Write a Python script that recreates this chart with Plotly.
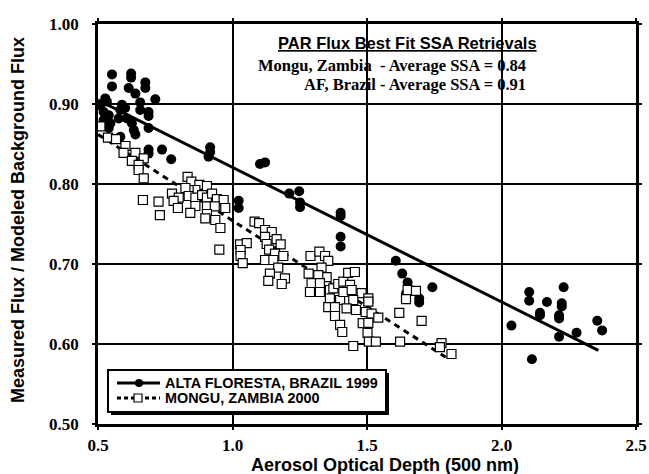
import plotly.graph_objects as go

# Alta Floresta, Brazil 1999 (filled circles)
af_x = [0.502, 0.509, 0.527, 0.533, 0.521, 0.540, 0.521, 0.546, 0.540, 0.552, 0.552, 0.623, 0.623, 0.614,
        0.676, 0.676, 0.639, 0.713, 0.657, 0.657, 0.688, 0.688, 0.589, 0.583, 0.601, 0.577, 0.608, 0.626,
        0.633, 0.639, 0.688, 0.583, 0.688, 0.688, 0.738, 0.772, 0.917, 0.917, 0.911, 1.023, 1.023, 1.102,
        1.121, 1.211, 1.248, 1.251, 1.251, 1.402, 1.402, 1.402, 1.402, 1.607, 1.631, 1.651, 1.645, 1.743,
        1.694, 1.694, 2.037, 2.103, 2.103, 2.113, 2.143, 2.143, 2.169, 2.214, 2.214, 2.214, 2.224, 2.224,
        2.231, 2.279, 2.356, 2.374]
af_y = [0.899, 0.899, 0.907, 0.903, 0.890, 0.886, 0.880, 0.876, 0.870, 0.937, 0.922, 0.938, 0.933, 0.920,
        0.927, 0.920, 0.913, 0.906, 0.902, 0.8925, 0.890, 0.885, 0.899, 0.8925, 0.895, 0.882, 0.882, 0.876,
        0.8675, 0.862, 0.870, 0.859, 0.843, 0.838, 0.843, 0.831, 0.846, 0.840, 0.834, 0.779, 0.770, 0.825,
        0.827, 0.788, 0.791, 0.777, 0.771, 0.764, 0.760, 0.734, 0.722, 0.704, 0.688, 0.677, 0.663, 0.671,
        0.657, 0.652, 0.623, 0.665, 0.654, 0.581, 0.639, 0.636, 0.6525, 0.636, 0.632, 0.609, 0.651, 0.647,
        0.671, 0.614, 0.629, 0.617]

# Mongu, Zambia 2000 (open squares)
mz_x = [0.509, 0.537, 0.567, 0.602, 0.595, 0.639, 0.670, 0.626, 0.651, 0.651, 0.670,
        0.833, 0.847, 0.877, 0.905, 0.862, 0.837, 0.825, 0.775, 0.800, 0.781, 0.837, 0.862, 0.887, 0.905,
        0.924, 0.942, 0.967, 0.905, 0.934, 0.862, 0.973, 0.797, 0.843, 0.905, 0.936, 0.899, 0.955, 0.725,
        0.667, 0.730, 0.951,
        1.028, 1.053, 1.030, 1.030, 1.038, 1.082, 1.099, 1.121, 1.146, 1.121, 1.164, 1.179, 1.127, 1.136,
        1.158, 1.189, 1.121, 1.152, 1.170, 1.139, 1.133, 1.195, 1.183,
        1.290, 1.323, 1.344, 1.356, 1.331, 1.283, 1.350, 1.319, 1.294, 1.325, 1.288, 1.325, 1.362, 1.375,
        1.362, 1.400, 1.393, 1.412, 1.430, 1.455, 1.437, 1.412, 1.443, 1.480, 1.449, 1.505, 1.505, 1.356,
        1.381, 1.424, 1.459, 1.495, 1.517, 1.542, 1.381, 1.400, 1.408, 1.484, 1.505, 1.502, 1.507, 1.533,
        1.449,
        1.620, 1.623, 1.651, 1.682, 1.645, 1.703, 1.777, 1.771, 1.814]
mz_y = [0.872, 0.858, 0.856, 0.8475, 0.839, 0.839, 0.832, 0.829, 0.824, 0.8175, 0.807,
        0.809, 0.803, 0.799, 0.7975, 0.7925, 0.7925, 0.795, 0.788, 0.783, 0.779, 0.785, 0.783, 0.786, 0.783,
        0.788, 0.781, 0.780, 0.772, 0.772, 0.7725, 0.770, 0.770, 0.764, 0.7625, 0.755, 0.757, 0.745, 0.778,
        0.780, 0.761, 0.718,
        0.7245, 0.726, 0.7175, 0.710, 0.701, 0.753, 0.751, 0.7425, 0.740, 0.734, 0.731, 0.7245, 0.725, 0.718,
        0.713, 0.710, 0.705, 0.705, 0.6955, 0.688, 0.679, 0.682, 0.675,
        0.710, 0.7155, 0.710, 0.704, 0.6955, 0.688, 0.6835, 0.686, 0.676, 0.676, 0.665, 0.665, 0.6675, 0.6695,
        0.657, 0.655, 0.675, 0.678, 0.689, 0.690, 0.674, 0.665, 0.6675, 0.6635, 0.655, 0.657, 0.653, 0.646,
        0.646, 0.6445, 0.6425, 0.640, 0.638, 0.633, 0.635, 0.624, 0.615, 0.626, 0.6265, 0.614, 0.603, 0.603,
        0.5975,
        0.639, 0.603, 0.6675, 0.6665, 0.656, 0.629, 0.601, 0.596, 0.5875]

# Best-fit lines
af_fit_x = [0.5, 2.36]
af_fit_y = [0.905, 0.592]
mz_fit_x = [0.5, 1.80]
mz_fit_y = [0.862, 0.582]

x_ticks = [0.5, 1.0, 1.5, 2.0, 2.5]
y_ticks = [0.50, 0.60, 0.70, 0.80, 0.90, 1.00]

legend_names = ["ALTA FLORESTA, BRAZIL 1999", "MONGU, ZAMBIA 2000"]

SERIF = "Liberation Serif"
SANS = "Liberation Sans"

# figure geometry (pixels)
W, H = 649, 474
ML, MR, MT, MB = 98, 13, 24, 50
PW, PH = W - ML - MR, H - MT - MB


def px(xp):
    return (xp - ML) / PW


def py(yp):
    return (H - MB - yp) / PH


fig = go.Figure()

fig.add_trace(go.Scatter(x=af_fit_x, y=af_fit_y, mode="lines", showlegend=False,
                         line=dict(color="black", width=3)))
fig.add_trace(go.Scatter(x=mz_fit_x, y=mz_fit_y, mode="lines", showlegend=False,
                         line=dict(color="black", width=3, dash="6px,5px")))
fig.add_trace(go.Scatter(x=af_x, y=af_y, mode="markers", showlegend=False,
                         marker=dict(symbol="circle", size=10, color="black",
                                     line=dict(width=0))))
fig.add_trace(go.Scatter(x=mz_x, y=mz_y, mode="markers", showlegend=False,
                         marker=dict(symbol="square", size=9, color="white",
                                     line=dict(width=1.2, color="black"))))

fig.update_layout(
    width=W, height=H,
    margin=dict(l=ML, r=MR, t=MT, b=MB, autoexpand=False),
    paper_bgcolor="white", plot_bgcolor="white",
    showlegend=False,
    xaxis=dict(range=[0.5, 2.5], tickvals=x_ticks, ticktext=[f"{v:.1f}" for v in x_ticks],
               showgrid=True, gridcolor="black", gridwidth=2, zeroline=False,
               showline=True, linecolor="black", linewidth=2.5, mirror="ticks",
               ticks="outside", ticklen=3, tickcolor="black", tickwidth=2,
               ticklabelstandoff=1,
               tickfont=dict(family=SERIF, size=17, color="black", weight="bold")),
    yaxis=dict(range=[0.5, 1.0], tickvals=y_ticks, ticktext=[f"{v:.2f}" for v in y_ticks],
               showgrid=True, gridcolor="black", gridwidth=2, zeroline=False,
               showline=True, linecolor="black", linewidth=2.5, mirror="ticks",
               ticks="outside", ticklen=3, tickcolor="black", tickwidth=2,
               ticklabelstandoff=10,
               tickfont=dict(family=SERIF, size=17, color="black", weight="bold")),
)

# axis titles
fig.add_annotation(xref="paper", yref="paper", x=px(385), y=py(465), xanchor="center", yanchor="middle",
                   text="Aerosol Optical Depth (500 nm)", showarrow=False,
                   font=dict(family=SANS, size=18, color="black", weight="bold"))
fig.add_annotation(xref="paper", yref="paper", x=px(18), y=py(220), xanchor="center", yanchor="middle",
                   textangle=-90, text="Measured Flux / Modeled Background Flux", showarrow=False,
                   font=dict(family=SANS, size=18, color="black", weight="bold"))

# in-plot title text
fig.add_annotation(xref="paper", yref="paper", x=px(407), y=py(43), xanchor="center", yanchor="middle",
                   text="<u>PAR Flux Best Fit SSA Retrievals</u>", showarrow=False,
                   font=dict(family=SANS, size=16.5, color="black", weight="bold"))
fig.add_annotation(xref="paper", yref="paper", x=px(528), y=py(65), xanchor="right", yanchor="middle",
                   text="Mongu, Zambia\u00a0 - Average SSA = 0.84", showarrow=False,
                   font=dict(family=SERIF, size=16.5, color="black", weight="bold"))
fig.add_annotation(xref="paper", yref="paper", x=px(528), y=py(85), xanchor="right", yanchor="middle",
                   text="AF, Brazil - Average SSA = 0.91", showarrow=False,
                   font=dict(family=SERIF, size=16.5, color="black", weight="bold"))

# custom legend box with drop shadow
shapes = []
shapes.append(dict(type="rect", xref="paper", yref="paper", x0=px(111), x1=px(389), y0=py(415), y1=py(373),
                   fillcolor="black", line=dict(width=0), layer="above"))
shapes.append(dict(type="rect", xref="paper", yref="paper", x0=px(108), x1=px(386), y0=py(412), y1=py(370),
                   fillcolor="white", line=dict(width=2, color="black"), layer="above"))
row_y = [383, 398]
shapes.append(dict(type="line", xref="paper", yref="paper", x0=px(117), x1=px(160), y0=py(row_y[0]), y1=py(row_y[0]),
                   line=dict(width=3, color="black"), layer="above"))
shapes.append(dict(type="circle", xref="paper", yref="paper", x0=px(135), x1=px(143),
                   y0=py(row_y[0] + 4), y1=py(row_y[0] - 4),
                   fillcolor="black", line=dict(width=0), layer="above"))
shapes.append(dict(type="line", xref="paper", yref="paper", x0=px(117), x1=px(160), y0=py(row_y[1]), y1=py(row_y[1]),
                   line=dict(width=3, color="black", dash="4px,3px"), layer="above"))
shapes.append(dict(type="rect", xref="paper", yref="paper", x0=px(134), x1=px(142),
                   y0=py(row_y[1] + 4), y1=py(row_y[1] - 4),
                   fillcolor="white", line=dict(width=1.2, color="black"), layer="above"))
fig.update_layout(shapes=shapes)

for name, ry in zip(legend_names, row_y):
    fig.add_annotation(xref="paper", yref="paper", x=px(163), y=py(ry), xanchor="left", yanchor="middle",
                       text=name, showarrow=False,
                       font=dict(family=SANS, size=14.4, color="black", weight="bold"))

fig.write_html("out.html")
